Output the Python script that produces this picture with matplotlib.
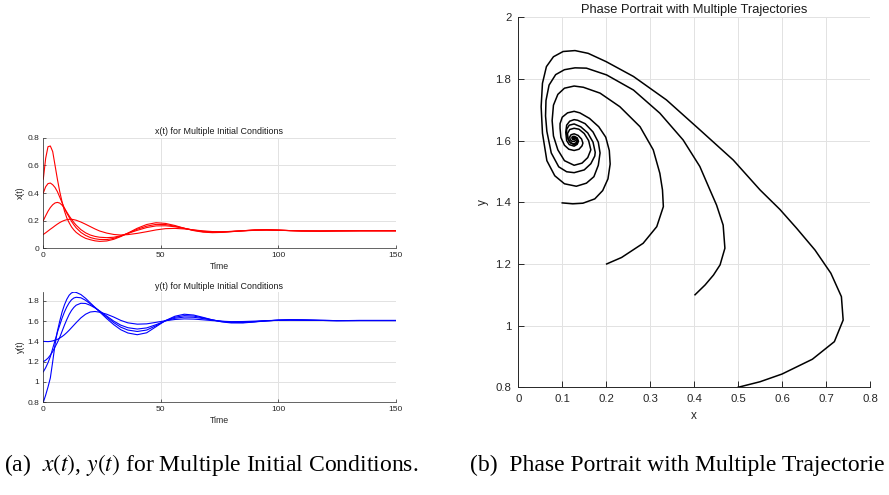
import matplotlib
matplotlib.use("Agg")
import matplotlib.pyplot as plt
from matplotlib.ticker import FuncFormatter

plt.rcParams['font.family'] = ['Liberation Sans', 'DejaVu Sans']
plt.rcParams['mathtext.fontset'] = 'stix'

# time grid
t = [0, 1, 2, 3, 4, 5, 6, 7, 8, 9, 10, 11, 12, 13, 14, 16, 18, 20, 22, 24, 27, 30, 33, 36,
     40, 44, 48, 52, 56, 60, 64, 68, 72, 76, 80, 85, 90, 95, 100, 105, 110, 118, 125, 135, 150]

# x(t) for the four initial conditions
x_ic1 = [0.1, 0.112, 0.125, 0.138, 0.15, 0.163, 0.175, 0.186, 0.195, 0.202, 0.207, 0.21, 0.21, 0.207, 0.203,
         0.19, 0.174, 0.157, 0.14, 0.125, 0.11, 0.1, 0.096, 0.099, 0.108, 0.12, 0.133, 0.142, 0.144, 0.14,
         0.133, 0.126, 0.121, 0.12, 0.122, 0.126, 0.13, 0.131, 0.13, 0.128, 0.126, 0.125, 0.126, 0.127, 0.127]
x_ic2 = [0.2, 0.235, 0.268, 0.295, 0.315, 0.328, 0.332, 0.327, 0.312, 0.29, 0.262, 0.235, 0.21, 0.187, 0.167,
         0.135, 0.112, 0.096, 0.086, 0.08, 0.077, 0.08, 0.091, 0.108, 0.13, 0.15, 0.162, 0.163, 0.156, 0.144,
         0.132, 0.123, 0.118, 0.119, 0.122, 0.127, 0.131, 0.133, 0.131, 0.128, 0.126, 0.125, 0.126, 0.127, 0.127]
x_ic3 = [0.4, 0.445, 0.468, 0.472, 0.46, 0.44, 0.41, 0.37, 0.33, 0.29, 0.255, 0.225, 0.195, 0.17, 0.148,
         0.115, 0.093, 0.078, 0.069, 0.064, 0.063, 0.072, 0.088, 0.108, 0.138, 0.16, 0.173, 0.172, 0.16, 0.145,
         0.13, 0.12, 0.116, 0.117, 0.121, 0.127, 0.132, 0.134, 0.131, 0.128, 0.126, 0.125, 0.126, 0.127, 0.127]
x_ic4 = [0.5, 0.65, 0.735, 0.74, 0.7, 0.6, 0.5, 0.41, 0.335, 0.27, 0.22, 0.185, 0.155, 0.133, 0.115,
         0.09, 0.072, 0.062, 0.054, 0.05, 0.053, 0.065, 0.085, 0.11, 0.145, 0.172, 0.185, 0.18, 0.165, 0.145,
         0.128, 0.117, 0.113, 0.115, 0.12, 0.127, 0.133, 0.135, 0.132, 0.128, 0.125, 0.124, 0.126, 0.127, 0.127]

# y(t) for the same initial conditions
y_ic1 = [1.4, 1.399, 1.398, 1.4, 1.405, 1.412, 1.42, 1.433, 1.448, 1.466, 1.487, 1.51, 1.535, 1.56, 1.585,
         1.632, 1.668, 1.69, 1.695, 1.688, 1.668, 1.64, 1.607, 1.583, 1.57, 1.573, 1.588, 1.604, 1.616, 1.622,
         1.62, 1.613, 1.605, 1.599, 1.595, 1.596, 1.6, 1.605, 1.608, 1.61, 1.609, 1.607, 1.605, 1.606, 1.606]
y_ic2 = [1.2, 1.215, 1.235, 1.265, 1.3, 1.345, 1.39, 1.44, 1.5, 1.56, 1.615, 1.665, 1.705, 1.735, 1.757,
         1.776, 1.774, 1.756, 1.73, 1.7, 1.65, 1.6, 1.56, 1.535, 1.522, 1.533, 1.565, 1.602, 1.628, 1.64,
         1.638, 1.625, 1.61, 1.598, 1.59, 1.589, 1.595, 1.603, 1.608, 1.611, 1.61, 1.607, 1.605, 1.606, 1.606]
y_ic3 = [1.1, 1.14, 1.19, 1.25, 1.33, 1.41, 1.49, 1.56, 1.63, 1.69, 1.74, 1.78, 1.81, 1.828, 1.835,
         1.83, 1.805, 1.77, 1.735, 1.698, 1.64, 1.585, 1.54, 1.512, 1.498, 1.512, 1.555, 1.605, 1.638, 1.654,
         1.65, 1.632, 1.612, 1.596, 1.587, 1.586, 1.594, 1.603, 1.609, 1.612, 1.611, 1.607, 1.605, 1.606, 1.606]
y_ic4 = [0.8, 0.87, 0.95, 1.04, 1.2, 1.37, 1.5, 1.6, 1.69, 1.76, 1.815, 1.855, 1.878, 1.886, 1.883,
         1.862, 1.825, 1.78, 1.735, 1.69, 1.625, 1.565, 1.515, 1.483, 1.466, 1.485, 1.545, 1.605, 1.648, 1.668,
         1.66, 1.637, 1.612, 1.592, 1.582, 1.582, 1.592, 1.602, 1.61, 1.613, 1.612, 1.607, 1.605, 1.606, 1.606]

# phase portrait trajectories (x, y)
ph_x1 = [0.100, 0.124, 0.147, 0.174, 0.192, 0.204, 0.209, 0.207, 0.199, 0.183, 0.162, 0.140, 0.127, 0.112,
         0.100, 0.095, 0.095, 0.097, 0.105, 0.115, 0.127, 0.138, 0.145, 0.147, 0.144, 0.136, 0.127, 0.120,
         0.117, 0.118, 0.122, 0.127, 0.131, 0.132, 0.130, 0.127, 0.125, 0.126, 0.127]
ph_y1 = [1.398, 1.395, 1.397, 1.411, 1.438, 1.476, 1.524, 1.568, 1.611, 1.645, 1.672, 1.690, 1.695, 1.690,
         1.676, 1.655, 1.640, 1.610, 1.585, 1.572, 1.568, 1.572, 1.583, 1.592, 1.605, 1.617, 1.622, 1.619,
         1.612, 1.603, 1.598, 1.597, 1.601, 1.605, 1.610, 1.611, 1.609, 1.606, 1.607]
ph_x2 = [0.201, 0.235, 0.284, 0.315, 0.330, 0.328, 0.322, 0.307, 0.277, 0.231, 0.186, 0.148, 0.127, 0.105,
         0.090, 0.080, 0.077, 0.080, 0.090, 0.105, 0.127, 0.145, 0.158, 0.165, 0.160, 0.150, 0.138, 0.127,
         0.117, 0.112, 0.113, 0.119, 0.127, 0.132, 0.134, 0.131, 0.127, 0.124, 0.124, 0.127, 0.127]
ph_y2 = [1.200, 1.221, 1.267, 1.321, 1.386, 1.440, 1.494, 1.570, 1.645, 1.710, 1.754, 1.773, 1.777, 1.770,
         1.750, 1.715, 1.665, 1.615, 1.570, 1.535, 1.520, 1.527, 1.545, 1.570, 1.600, 1.623, 1.637, 1.640,
         1.636, 1.623, 1.605, 1.592, 1.589, 1.594, 1.602, 1.609, 1.611, 1.609, 1.605, 1.605, 1.607]
ph_x3 = [0.402, 0.425, 0.444, 0.459, 0.470, 0.466, 0.451, 0.436, 0.413, 0.375, 0.322, 0.262, 0.201, 0.155,
         0.129, 0.105, 0.085, 0.070, 0.063, 0.062, 0.065, 0.075, 0.092, 0.110, 0.127, 0.150, 0.165, 0.174,
         0.175, 0.170, 0.158, 0.142, 0.127, 0.116, 0.110, 0.110, 0.116, 0.127, 0.133, 0.135, 0.132, 0.127,
         0.123, 0.123, 0.127, 0.128, 0.127]
ph_y3 = [1.100, 1.132, 1.164, 1.197, 1.251, 1.326, 1.391, 1.440, 1.516, 1.602, 1.689, 1.764, 1.813, 1.835,
         1.836, 1.830, 1.814, 1.780, 1.730, 1.680, 1.630, 1.560, 1.515, 1.499, 1.496, 1.505, 1.525, 1.550,
         1.562, 1.595, 1.625, 1.645, 1.654, 1.650, 1.637, 1.620, 1.597, 1.586, 1.591, 1.600, 1.608, 1.612,
         1.611, 1.605, 1.603, 1.606, 1.607]
ph_x4 = [0.500, 0.550, 0.600, 0.669, 0.719, 0.739, 0.735, 0.711, 0.675, 0.633, 0.595, 0.550, 0.489, 0.413,
         0.337, 0.262, 0.200, 0.159, 0.129, 0.102, 0.080, 0.064, 0.055, 0.052, 0.055, 0.065, 0.083, 0.105,
         0.132, 0.155, 0.172, 0.182, 0.186, 0.182, 0.170, 0.152, 0.135, 0.127, 0.117, 0.110, 0.108, 0.110,
         0.116, 0.127, 0.134, 0.137, 0.134, 0.127, 0.123, 0.122, 0.125, 0.128, 0.129, 0.127]
ph_y4 = [0.800, 0.818, 0.843, 0.891, 0.948, 1.018, 1.094, 1.170, 1.245, 1.316, 1.377, 1.440, 1.537, 1.635,
         1.732, 1.808, 1.856, 1.883, 1.892, 1.889, 1.872, 1.840, 1.786, 1.710, 1.624, 1.535, 1.486, 1.460,
         1.452, 1.462, 1.483, 1.520, 1.560, 1.595, 1.628, 1.655, 1.666, 1.668, 1.663, 1.650, 1.627, 1.600,
         1.587, 1.582, 1.588, 1.598, 1.609, 1.614, 1.613, 1.609, 1.604, 1.604, 1.607, 1.608]

AX_COL = '#262626'
GRID_COL = '#e2e2e2'
fmt = FuncFormatter(lambda v, p: f'{v:g}')


def matlab_style(ax, fs, lw=0.6):
    for s in ['top', 'right']:
        ax.spines[s].set_visible(False)
    for s in ['left', 'bottom']:
        ax.spines[s].set_color(AX_COL)
        ax.spines[s].set_linewidth(lw)
    ax.tick_params(direction='in', colors=AX_COL, labelsize=fs, width=lw, length=2.5, pad=3)
    ax.grid(True, color=GRID_COL, linewidth=0.7)
    ax.set_axisbelow(True)
    ax.xaxis.set_major_formatter(fmt)
    ax.yaxis.set_major_formatter(fmt)


fig = plt.figure(figsize=(8.89, 4.95), dpi=100)

ax1 = fig.add_axes([0.0487, 0.4984, 0.3964, 0.2234])
for xs in [x_ic1, x_ic2, x_ic3, x_ic4]:
    ax1.plot(t, xs, color='#ff0000', lw=0.8)
ax1.set_xlim(0, 150)
ax1.set_ylim(0, 0.8)
ax1.set_xticks([0, 50, 100, 150])
ax1.set_yticks([0, 0.2, 0.4, 0.6, 0.8])
matlab_style(ax1, 6.0, 0.5)
ax1.set_title('x(t) for Multiple Initial Conditions', fontsize=6.4, color='#1a1a1a', pad=2.5)
ax1.set_xlabel('Time', fontsize=6.3, color=AX_COL, labelpad=2)
ax1.set_ylabel('x(t)', fontsize=6.3, color=AX_COL, labelpad=2)

ax2 = fig.add_axes([0.0487, 0.1873, 0.3964, 0.2228])
for ys in [y_ic1, y_ic2, y_ic3, y_ic4]:
    ax2.plot(t, ys, color='#0000ff', lw=0.8)
ax2.set_xlim(0, 150)
ax2.set_ylim(0.8, 1.887)
ax2.set_xticks([0, 50, 100, 150])
ax2.set_yticks([0.8, 1.0, 1.2, 1.4, 1.6, 1.8])
matlab_style(ax2, 6.0, 0.5)
ax2.set_title('y(t) for Multiple Initial Conditions', fontsize=6.4, color='#1a1a1a', pad=2.5)
ax2.set_xlabel('Time', fontsize=6.3, color=AX_COL, labelpad=2)
ax2.set_ylabel('y(t)', fontsize=6.3, color=AX_COL, labelpad=2)

ax3 = fig.add_axes([0.583, 0.2176, 0.3956, 0.7475])
for px, py in [(ph_x1, ph_y1), (ph_x2, ph_y2), (ph_x3, ph_y3), (ph_x4, ph_y4)]:
    ax3.plot(px, py, color='black', lw=1.1)
ax3.set_xlim(0, 0.8)
ax3.set_ylim(0.8, 2.0)
ax3.set_xticks([0, 0.1, 0.2, 0.3, 0.4, 0.5, 0.6, 0.7, 0.8])
ax3.set_yticks([0.8, 1.0, 1.2, 1.4, 1.6, 1.8, 2.0])
matlab_style(ax3, 8.2, 0.7)
ax3.tick_params(length=4, pad=5)
ax3.set_title('Phase Portrait with Multiple Trajectories', fontsize=9.3, color='#1a1a1a', pad=3)
ax3.set_xlabel('x', fontsize=8.5, color=AX_COL, labelpad=4)
ax3.set_ylabel('y', fontsize=8.5, color=AX_COL, labelpad=5)

# captions under the two panels (the second one runs off the page edge in the source)
fig.text(0.237, 0.06, r'(a)  $x(t)$, $y(t)$ for Multiple Initial Conditions.',
         family='Liberation Serif', fontsize=17, ha='center', va='center')
fig.text(0.529, 0.06, r'(b)  Phase Portrait with Multiple Trajectorie',
         family='Liberation Serif', fontsize=17, ha='left', va='center')

fig.savefig('out.png', dpi=100)
